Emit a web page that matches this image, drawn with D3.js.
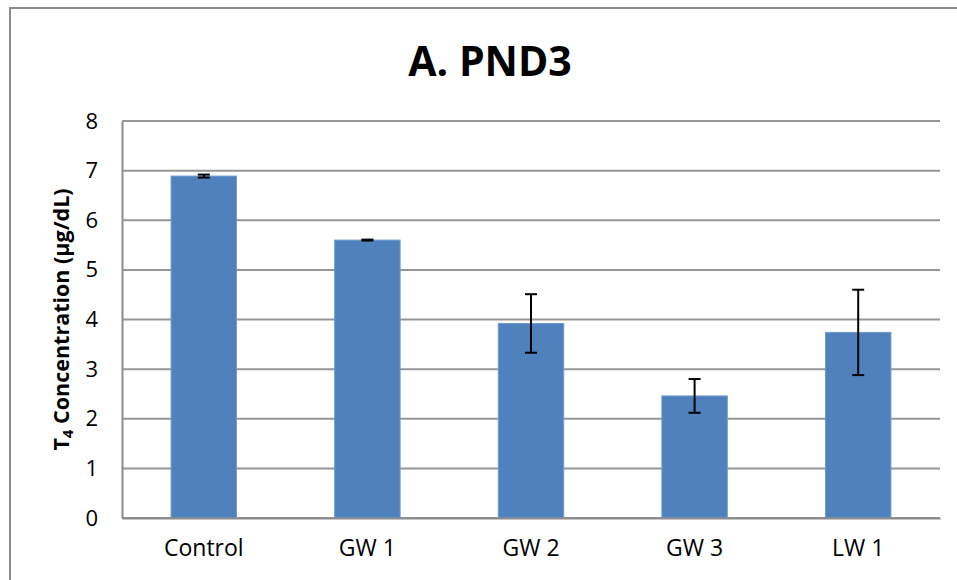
<!DOCTYPE html>
<html>
<head>
<meta charset="utf-8">
<script src="https://cdn.jsdelivr.net/npm/d3@7"></script>
<style>
  body { margin: 0; background: #fff; }
  text { font-family: "Open Sans", "Liberation Sans", sans-serif; }
</style>
</head>
<body>
<div id="chart"></div>
<script>
// data
var groups = ["Control", "GW 1", "GW 2", "GW 3", "LW 1"];
var means = [6.89, 5.60, 3.92, 2.46, 3.74];
var errors = [0.03, 0.01, 0.59, 0.34, 0.86];
var yTicks = [0, 1, 2, 3, 4, 5, 6, 7, 8];

var width = 957, height = 580;
var margin = {left: 122, top: 121, right: 17, bottom: 62};

var svg = d3.select("#chart").append("svg")
    .attr("width", width)
    .attr("height", height);

// outer frame (runs off right and bottom edges)
svg.append("rect")
    .attr("x", 10)
    .attr("y", 8)
    .attr("width", 960)
    .attr("height", 600)
    .style("fill", "none")
    .style("stroke", "#8c8c8c")
    .style("stroke-width", 2);

var x = d3.scaleBand()
    .domain(groups)
    .range([margin.left, width - margin.right])
    .paddingInner(0.6)
    .paddingOuter(0.3);

var y = d3.scaleLinear()
    .domain([0, 8])
    .range([height - margin.bottom, margin.top]);

// gridlines
svg.append("g")
    .selectAll("line")
    .data(yTicks)
    .enter().append("line")
    .attr("x1", margin.left)
    .attr("x2", width - margin.right)
    .attr("y1", function(d){ return y(d); })
    .attr("y2", function(d){ return y(d); })
    .style("stroke", "#969696")
    .style("stroke-width", 2);

// y axis
var yAxis = svg.append("g")
    .attr("transform", "translate(" + margin.left + ",0)")
    .call(d3.axisLeft(y).tickValues(yTicks).tickSize(0).tickPadding(24));
yAxis.select(".domain").style("stroke", "#8c8c8c").style("stroke-width", 2);
yAxis.selectAll("text").style("font-size", "22px").style("fill", "#000");

// bars
svg.append("g")
    .selectAll("rect")
    .data(groups)
    .enter().append("rect")
    .attr("x", function(d){ return x(d); })
    .attr("y", function(d, i){ return y(means[i]); })
    .attr("width", x.bandwidth())
    .attr("height", function(d, i){ return y(0) - y(means[i]); })
    .style("fill", "#4f81bd")
    .style("stroke", "#6f9bd1")
    .style("stroke-width", 1);

// x axis
var xAxis = svg.append("g")
    .attr("transform", "translate(0," + y(0) + ")")
    .call(d3.axisBottom(x).tickSize(0).tickPadding(22));
xAxis.select(".domain").style("stroke", "#8c8c8c").style("stroke-width", 2);
xAxis.selectAll("text").style("font-size", "23px").style("fill", "#000");

// error bars
var eb = svg.append("g")
    .selectAll("g")
    .data(groups)
    .enter().append("g")
    .style("stroke", "#000")
    .style("stroke-width", 2);

eb.append("line")
    .attr("x1", function(d){ return x(d) + x.bandwidth()/2; })
    .attr("x2", function(d){ return x(d) + x.bandwidth()/2; })
    .attr("y1", function(d, i){ return y(means[i] + errors[i]); })
    .attr("y2", function(d, i){ return y(means[i] - errors[i]); });

[1, -1].forEach(function(s){
    eb.append("line")
        .attr("x1", function(d){ return x(d) + x.bandwidth()/2 - 6; })
        .attr("x2", function(d){ return x(d) + x.bandwidth()/2 + 6; })
        .attr("y1", function(d, i){ return y(means[i] + s*errors[i]); })
        .attr("y2", function(d, i){ return y(means[i] + s*errors[i]); });
});

// title
svg.append("text")
    .attr("x", 490)
    .attr("y", 76)
    .attr("text-anchor", "middle")
    .style("font-size", "41px")
    .style("font-weight", "bold")
    .text("A. PND3");

// y label
var yl = svg.append("text")
    .attr("transform", "translate(69," + ((margin.top + height - margin.bottom)/2) + ") rotate(-90)")
    .attr("text-anchor", "middle")
    .style("font-size", "21.5px")
    .style("font-weight", "bold");
yl.append("tspan").text("T");
yl.append("tspan").attr("dy", 4).style("font-size", "15px").text("4");
yl.append("tspan").attr("dy", -4).text(" Concentration (µg/dL)");
</script>
</body>
</html>
